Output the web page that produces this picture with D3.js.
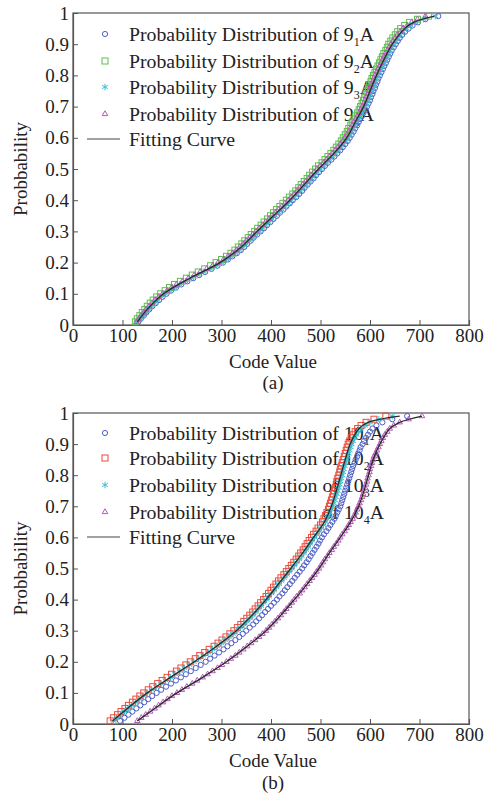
<!DOCTYPE html>
<html>
<head>
<meta charset="utf-8">
<script src="https://cdn.jsdelivr.net/npm/d3@7"></script>
<style>
  body { margin: 0; background: #fff; }
  svg text { font-family: "Liberation Serif", "Times New Roman", serif; fill: #222; }
</style>
</head>
<body>
<script>
// probability levels shared by every measured series
var probLevels = [0.01,0.02,0.03,0.04,0.05,0.06,0.07,0.08,0.09,0.10,
                  0.11,0.12,0.13,0.14,0.15,0.16,0.17,0.18,0.19,0.20,
                  0.21,0.22,0.23,0.24,0.25,0.26,0.27,0.28,0.29,0.30,
                  0.31,0.32,0.33,0.34,0.35,0.36,0.37,0.38,0.39,0.40,
                  0.41,0.42,0.43,0.44,0.45,0.46,0.47,0.48,0.49,0.50,
                  0.51,0.52,0.53,0.54,0.55,0.56,0.57,0.58,0.59,0.60,
                  0.61,0.62,0.63,0.64,0.65,0.66,0.67,0.68,0.69,0.70,
                  0.71,0.72,0.73,0.74,0.75,0.76,0.77,0.78,0.79,0.80,
                  0.81,0.82,0.83,0.84,0.85,0.86,0.87,0.88,0.89,0.90,
                  0.91,0.92,0.93,0.94,0.95,0.96,0.97,0.98,0.99];

// panel (a) code values
var codeA1 = [132,137,143,148,154,160,167,174,181,189,198,208,219,231,243,255,267,280,292,303,
              313,322,331,339,346,352,359,365,372,379,386,392,399,405,412,418,425,431,438,444,
              451,457,463,468,474,480,486,491,497,503,509,515,522,528,534,540,545,550,555,559,
              563,567,570,574,577,580,584,587,591,594,597,600,602,605,607,610,612,615,617,620,
              623,626,629,632,635,638,641,644,648,652,656,660,665,671,678,686,697,712,738];
var codeA2 = [126,130,135,140,145,150,156,162,169,177,186,195,205,217,229,241,253,266,278,289,
              300,310,319,327,334,341,347,354,360,367,373,380,386,393,399,405,411,418,424,431,
              437,444,450,456,461,467,473,478,484,490,496,503,509,515,521,527,532,537,542,546,
              550,554,557,561,564,568,571,575,578,581,584,587,589,592,594,597,599,602,604,607,
              610,613,616,619,622,625,628,632,635,638,642,646,651,656,662,670,680,696,718];
var codeA3 = [130,135,141,146,152,158,165,171,178,186,195,205,215,227,239,252,264,277,289,300,
              310,319,328,336,343,350,356,363,369,376,382,389,395,402,409,416,422,429,435,441,
              447,453,459,465,471,477,482,488,494,500,506,512,518,524,530,536,541,546,551,555,
              559,563,566,570,573,577,580,584,587,590,593,596,598,601,603,606,608,611,613,616,
              619,622,625,628,631,634,637,640,644,648,652,656,661,667,674,682,692,708,732];
var codeA4 = [128,133,138,143,148,154,160,166,173,181,190,199,209,221,233,245,257,270,282,293,
              304,313,322,330,337,344,350,357,363,370,376,383,389,396,402,409,415,422,428,435,
              441,447,453,458,464,470,476,481,487,493,499,506,512,518,524,530,535,540,545,549,
              553,557,560,564,567,571,574,578,581,584,587,590,592,595,597,600,602,605,607,610,
              613,616,619,622,625,628,631,635,638,642,646,650,655,661,667,675,684,696,712];

// panel (b) code values
var codeB1 = [95,104,112,120,128,136,144,152,160,169,178,188,198,208,218,228,238,248,258,268,
              277,286,295,304,312,320,328,336,343,350,357,364,370,376,382,388,394,400,406,412,
              417,423,428,433,438,443,448,453,458,463,467,472,476,480,484,488,492,496,499,503,
              507,512,516,520,524,528,531,534,537,540,542,544,546,548,550,552,554,556,558,560,
              562,564,566,569,571,574,576,579,581,585,588,592,596,600,605,613,625,645,675];
var codeB2 = [75,82,90,97,105,112,120,127,135,143,152,161,171,180,190,199,209,218,228,237,
              247,256,266,275,285,293,301,309,317,325,332,339,345,351,357,363,368,374,379,385,
              390,395,400,405,410,415,420,426,431,436,441,446,451,456,460,465,469,473,477,482,
              486,491,495,500,504,507,510,513,516,518,520,522,524,526,528,530,532,533,535,537,
              539,540,542,544,546,548,550,552,554,556,559,562,566,570,575,582,592,608,632];
var codeB3 = [82,89,97,104,112,119,127,134,142,150,159,168,178,187,197,206,216,225,235,244,
              254,263,273,282,291,299,307,315,323,331,338,345,351,357,363,369,374,380,385,391,
              396,401,406,411,416,421,426,432,437,442,447,452,457,462,466,471,475,479,483,488,
              492,497,501,506,510,513,516,519,522,525,527,529,531,533,535,537,539,540,542,544,
              546,547,549,551,553,555,557,559,561,563,566,569,573,577,582,590,600,618,645];
var codeB4 = [130,138,147,156,165,173,182,191,200,210,220,230,241,251,262,272,282,292,301,310,
              319,328,336,344,352,360,368,376,383,390,396,402,408,414,420,426,431,437,442,447,
              452,458,463,468,473,478,483,488,492,497,501,505,509,514,518,523,527,532,536,540,
              544,549,553,557,561,565,568,571,574,577,579,582,584,586,588,590,592,594,595,597,
              599,600,602,604,606,608,611,614,617,620,623,626,630,635,640,648,660,678,705];

// fitting curves
var fitLevels = [0.01,0.05,0.1,0.15,0.2,0.25,0.3,0.35,0.4,0.45,0.5,0.55,0.6,0.65,0.7,0.75,0.8,0.85,0.9,0.95,0.97,0.99];
var fitA  = [130,150,183,236,297,340,372,405,438,467,496,527,553,570,587,600,613,628,645,670,688,730];
var fitB  = [80,110,150,197,245,290,330,362,390,415,440,464,486,508,522,532,541,550,560,578,596,660];
var fitB4 = [130,165,210,262,310,352,390,420,447,473,497,518,540,561,577,588,597,606,620,640,660,705];

var xTicks = [0,100,200,300,400,500,600,700,800];
var yTicks = [0,0.1,0.2,0.3,0.4,0.5,0.6,0.7,0.8,0.9,1];

var namesA = ["9", "9", "9", "9"];
var namesB = ["10", "10", "10", "10"];
var subs = ["1", "2", "3", "4"];

var svg = d3.select("body").append("svg")
  .attr("width", 488)
  .attr("height", 793);

var markers = ["circle", "square", "asterisk", "triangle"];

function drawMarker(g, kind, color, x, y) {
  if (kind == "circle") {
    g.append("circle").attr("cx", x).attr("cy", y).attr("r", 2.6)
      .attr("fill", "none").attr("stroke", color).attr("stroke-width", 1);
  } else if (kind == "square") {
    g.append("rect").attr("x", x - 3).attr("y", y - 3).attr("width", 6).attr("height", 6)
      .attr("fill", "none").attr("stroke", color).attr("stroke-width", 1);
  } else if (kind == "asterisk") {
    g.append("path").attr("transform", "translate(" + x + "," + y + ")")
      .attr("d", d3.symbol(d3.symbolAsterisk, 30)())
      .attr("fill", "none").attr("stroke", color).attr("stroke-width", 1);
  } else {
    g.append("path").attr("transform", "translate(" + x + "," + y + ")")
      .attr("d", d3.symbol(d3.symbolTriangle2, 22)())
      .attr("fill", "none").attr("stroke", color).attr("stroke-width", 1);
  }
}

function panel(cfg) {
  var left = 73, right = 469;
  var xScale = d3.scaleLinear().domain([0, 800]).range([left, right]);
  var yScale = d3.scaleLinear().domain([0, 1]).range([cfg.bottom, cfg.top]);

  var g = svg.append("g");

  // frame
  g.append("rect")
    .attr("x", left).attr("y", cfg.top)
    .attr("width", right - left).attr("height", cfg.bottom - cfg.top)
    .attr("fill", "none").attr("stroke", "#555").attr("stroke-width", 1.2);

  var xAxis = d3.axisBottom(xScale).tickValues(xTicks).tickSize(-5).tickPadding(3)
    .tickFormat(d3.format("d"));
  var yAxis = d3.axisLeft(yScale).tickValues(yTicks).tickSize(-5).tickPadding(4)
    .tickFormat(function(d){ return String(d); });

  var gx = g.append("g").attr("transform", "translate(0," + cfg.bottom + ")").call(xAxis);
  var gy = g.append("g").attr("transform", "translate(" + left + ",0)").call(yAxis);
  [gx, gy].forEach(function(a){
    a.select(".domain").attr("stroke", "#555").attr("stroke-width", 1.2);
    a.selectAll(".tick line").attr("stroke", "#555");
    a.selectAll("text").attr("font-size", 19).attr("font-family", "Liberation Serif").attr("fill", "#222");
  });

  // axis titles
  g.append("text")
    .attr("x", 273).attr("y", cfg.bottom + 43)
    .attr("text-anchor", "middle").attr("font-size", 19)
    .text("Code Value");
  g.append("text")
    .attr("x", 273).attr("y", cfg.bottom + cfg.capGap)
    .attr("text-anchor", "middle").attr("font-size", 19)
    .text(cfg.caption);
  g.append("text")
    .attr("transform", "translate(27," + ((cfg.top + cfg.bottom) / 2) + ") rotate(-90)")
    .attr("text-anchor", "middle").attr("font-size", 19)
    .text("Probbability");

  // legend, drawn under the data
  var leg = g.append("g");
  cfg.series.forEach(function(s, i){
    var ly = cfg.legendY[i];
    drawMarker(leg, markers[i], s.color, 105, ly);
    var t = leg.append("text").attr("x", 129).attr("y", ly).attr("dy", "0.33em").attr("font-size", 19.8);
    t.append("tspan").text("Probability Distribution of " + s.name);
    t.append("tspan").attr("font-size", 12).attr("dy", 5).text(s.sub);
    t.append("tspan").attr("dy", -5).text("A");
  });
  var fy = cfg.legendY[4];
  leg.append("line").attr("x1", 87).attr("x2", 120).attr("y1", fy).attr("y2", fy)
    .attr("stroke", "#444").attr("stroke-width", 1.2);
  leg.append("text").attr("x", 129).attr("y", fy).attr("dy", "0.33em").attr("font-size", 19.8)
    .text("Fitting Curve");

  // data markers
  cfg.series.forEach(function(s, i){
    var sg = g.append("g");
    s.values.forEach(function(v, j){
      drawMarker(sg, markers[i], s.color, xScale(v), yScale(probLevels[j]));
    });
  });

  // fitting curves
  var line = d3.line()
    .x(function(d){ return xScale(d[0]); })
    .y(function(d){ return yScale(d[1]); })
    .curve(d3.curveCatmullRom);
  cfg.fits.forEach(function(f){
    g.append("path")
      .attr("d", line(f.map(function(v, j){ return [v, fitLevels[j]]; })))
      .attr("fill", "none").attr("stroke", "#2a2a2a").attr("stroke-width", 1.3);
  });
}

panel({
  top: 13, bottom: 325, caption: "(a)", capGap: 64,
  legendY: [34, 61, 87, 114, 139],
  series: [
    {name: namesA[0], sub: subs[0], color: "#4c5ec6", values: codeA1},
    {name: namesA[1], sub: subs[1], color: "#5cbf4a", values: codeA2},
    {name: namesA[2], sub: subs[2], color: "#3cc0d2", values: codeA3},
    {name: namesA[3], sub: subs[3], color: "#b55bb8", values: codeA4}
  ],
  fits: [fitA]
});

panel({
  top: 413, bottom: 724, caption: "(b)", capGap: 65,
  legendY: [433, 458, 485, 512, 537],
  series: [
    {name: namesB[0], sub: subs[0], color: "#4c5ec6", values: codeB1},
    {name: namesB[1], sub: subs[1], color: "#ec4b3c", values: codeB2},
    {name: namesB[2], sub: subs[2], color: "#3cc0d2", values: codeB3},
    {name: namesB[3], sub: subs[3], color: "#b55bb8", values: codeB4}
  ],
  fits: [fitB, fitB4]
});
</script>
</body>
</html>
